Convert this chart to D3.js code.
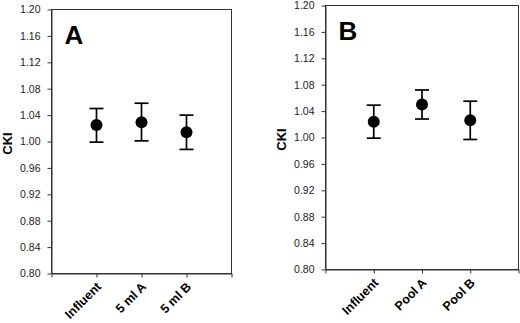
<!DOCTYPE html>
<html>
<head>
<meta charset="utf-8">
<script src="https://cdn.jsdelivr.net/npm/d3@7"></script>
<style>
  body { margin: 0; background: #fff; }
  svg { display: block; }
  .tick text { font-family: "Liberation Sans", Arial, sans-serif; }
</style>
</head>
<body>
<div id="chart"></div>
<script>
"use strict";

// values
var categoriesA = ["Influent", "5 ml A", "5 ml B"];
var meanA = [1.025, 1.029, 1.014];
var upperA = [1.050, 1.058, 1.040];
var lowerA = [0.999, 1.001, 0.988];

var categoriesB = ["Influent", "Pool A", "Pool B"];
var meanB = [1.024, 1.050, 1.026];
var upperB = [1.049, 1.072, 1.055];
var lowerB = [0.999, 1.028, 0.997];

var yTicks = [0.80, 0.84, 0.88, 0.92, 0.96, 1.00, 1.04, 1.08, 1.12, 1.16, 1.20];

var svg = d3.select("#chart")
  .append("svg")
  .attr("width", 520)
  .attr("height", 323);

function panel(opts) {
  var x = d3.scaleLinear().domain([0, 4]).range([opts.left, opts.right]);
  var y = d3.scaleLinear().domain([0.80, 1.20]).range([opts.bottom, opts.top]);
  var cats = opts.cats;

  var g = svg.append("g");

  g.append("rect")
    .attr("x", opts.left)
    .attr("y", opts.top)
    .attr("width", opts.right - opts.left)
    .attr("height", opts.bottom - opts.top)
    .attr("fill", "none")
    .attr("stroke", "#333")
    .attr("stroke-width", 1);

  var yAxis = g.append("g")
    .attr("transform", "translate(" + opts.left + ",0)")
    .call(d3.axisLeft(y)
      .tickValues(yTicks)
      .tickFormat(d3.format(".2f"))
      .tickSize(4)
      .tickSizeOuter(0)
      .tickPadding(7));
  yAxis.select(".domain").attr("stroke", "#333");
  yAxis.selectAll(".tick line").attr("stroke", "#333");
  yAxis.selectAll(".tick text")
    .attr("font-size", 10.5)
    .attr("fill", "#222");

  var xAxis = g.append("g")
    .attr("transform", "translate(0," + opts.bottom + ")")
    .call(d3.axisBottom(x)
      .tickValues([0, 1, 2, 3, 4])
      .tickFormat(function(d) { return cats[d - 1] || ""; })
      .tickSize(4)
      .tickSizeOuter(0));
  xAxis.select(".domain").attr("stroke", "#333");
  xAxis.selectAll(".tick line").attr("stroke", "#333");
  xAxis.selectAll(".tick text")
    .attr("font-size", 12.5)
    .attr("font-weight", "bold")
    .attr("fill", "#000")
    .attr("text-anchor", "end")
    .attr("dy", null)
    .attr("y", null)
    .attr("transform", "translate(5,14) rotate(-45)");

  // y axis title
  g.append("text")
    .attr("transform", "translate(" + opts.titleX + "," + ((opts.top + opts.bottom) / 2 + 2) + ") rotate(-90)")
    .attr("text-anchor", "middle")
    .attr("font-family", "Liberation Sans, Arial, sans-serif")
    .attr("font-weight", "bold")
    .attr("font-size", 13)
    .text("CKI");

  // panel letter
  g.append("text")
    .attr("x", opts.left + 13)
    .attr("y", opts.top + 34)
    .attr("font-family", "Liberation Sans, Arial, sans-serif")
    .attr("font-weight", "bold")
    .attr("font-size", 26)
    .text(opts.letter);

  var rows = cats.map(function(c, i) {
    return { pos: i + 1, mean: opts.mean[i], hi: opts.upper[i], lo: opts.lower[i] };
  });

  var bars = g.selectAll(".err")
    .data(rows)
    .enter()
    .append("g")
    .attr("class", "err")
    .attr("stroke", "#000")
    .attr("stroke-width", 1.7);

  bars.append("line")
    .attr("x1", function(d) { return x(d.pos); })
    .attr("x2", function(d) { return x(d.pos); })
    .attr("y1", function(d) { return y(d.hi); })
    .attr("y2", function(d) { return y(d.lo); });

  bars.append("line")
    .attr("x1", function(d) { return x(d.pos) - 7; })
    .attr("x2", function(d) { return x(d.pos) + 7; })
    .attr("y1", function(d) { return y(d.hi); })
    .attr("y2", function(d) { return y(d.hi); });

  bars.append("line")
    .attr("x1", function(d) { return x(d.pos) - 7; })
    .attr("x2", function(d) { return x(d.pos) + 7; })
    .attr("y1", function(d) { return y(d.lo); })
    .attr("y2", function(d) { return y(d.lo); });

  g.selectAll(".dot")
    .data(rows)
    .enter()
    .append("circle")
    .attr("class", "dot")
    .attr("r", 6)
    .attr("cx", function(d) { return x(d.pos); })
    .attr("cy", function(d) { return y(d.mean); })
    .attr("fill", "#000");
}

panel({
  left: 51.5, right: 231.5, top: 9.5, bottom: 273.5,
  titleX: 12, letter: "A",
  cats: categoriesA, mean: meanA, upper: upperA, lower: lowerA
});

panel({
  left: 325.5, right: 518.5, top: 5.5, bottom: 269.5,
  titleX: 286, letter: "B",
  cats: categoriesB, mean: meanB, upper: upperB, lower: lowerB
});
</script>
</body>
</html>
